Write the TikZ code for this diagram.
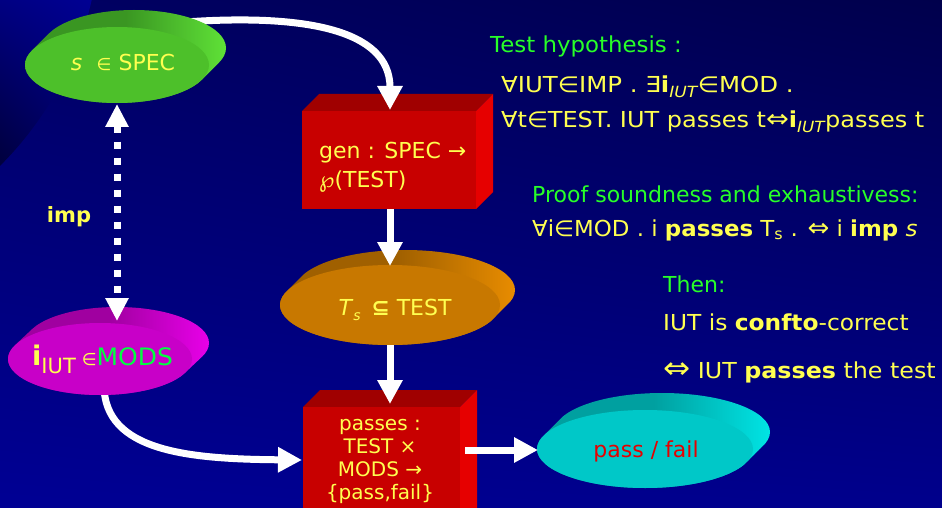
\documentclass[tikz,border=0pt]{standalone}
\usepackage{fontspec}
\setmainfont{DejaVu Sans}
\usetikzlibrary{arrows.meta,shadings}
\definecolor{ylw}{RGB}{255,255,80}
\definecolor{grn}{RGB}{40,255,40}
\definecolor{modsgrn}{RGB}{0,255,64}
\definecolor{bgUL}{RGB}{0,0,100}
\definecolor{bgUR}{RGB}{0,0,76}
\definecolor{bgLL}{RGB}{0,0,148}
\definecolor{bgLR}{RGB}{0,0,140}
\definecolor{cUR}{RGB}{0,0,150}
\definecolor{cUL}{RGB}{0,0,130}
\definecolor{cLL}{RGB}{0,0,55}
\definecolor{cLR}{RGB}{0,0,115}
\definecolor{gBack}{RGB}{58,150,34}
\definecolor{gSide}{RGB}{95,225,55}
\definecolor{gFront}{RGB}{77,192,42}
\definecolor{oBack}{RGB}{160,96,0}
\definecolor{oSide}{RGB}{232,140,0}
\definecolor{oFront}{RGB}{200,120,0}
\definecolor{mBack}{RGB}{160,0,160}
\definecolor{mSide}{RGB}{232,0,232}
\definecolor{mFront}{RGB}{200,0,200}
\definecolor{cBack}{RGB}{0,160,160}
\definecolor{cSide}{RGB}{0,228,228}
\definecolor{cFront}{RGB}{0,200,200}
\definecolor{rTop}{RGB}{160,0,0}
\definecolor{rSide}{RGB}{230,0,0}
\definecolor{rFront}{RGB}{200,0,0}
\definecolor{failred}{RGB}{230,0,0}
\newcommand\fs[1]{\fontsize{#1}{#1}\selectfont}
% 3D disc: cx, cy, rx, ry, dx, dy, back, side, front
\newcommand\disc[9]{%
  \shade[left color=#7, right color=#8, middle color=#7]
    \foreach \t in {0,0.05,...,1.01}{ (#1+\t*#5,#2+\t*#6) ellipse [x radius=#3pt, y radius=#4pt] };
  \fill[#9] (#1,#2) ellipse [x radius=#3pt, y radius=#4pt];
}
% 3D box: x1, y1, x2, y2, depth
\newcommand\boxthree[5]{%
  \fill[rTop] (#1,#2) -- (#1+#5,#2-#5) -- (#3+#5,#2-#5) -- (#3,#2) -- cycle;
  \fill[rSide] (#3,#2) -- (#3+#5,#2-#5) -- (#3+#5,#4-#5) -- (#3,#4) -- cycle;
  \fill[rFront] (#1,#2) rectangle (#3,#4);
}
\newcommand\wide[2]{\scalebox{#1}[1]{#2}}
\begin{document}
\begin{tikzpicture}[x=1pt,y=-1pt,
  txt/.style={text=ylw, font=\fs{22}, anchor=base west, inner sep=0pt},
  lbl/.style={text=ylw, font=\fs{22}, anchor=base, inner sep=0pt},
  warrow/.style={draw=white, line width=7pt, -{Triangle[length=24pt,width=24pt]}},
  wdots/.style={draw=white, line width=7pt, dash pattern=on 7pt off 9pt,
     {Triangle[length=23pt,width=22pt]}-{Triangle[length=23pt,width=22pt]}}]
\useasboundingbox (0,0) rectangle (942,508);
\clip (0,0) rectangle (942,508);
% background
\shade[upper left=bgUL, upper right=bgUR, lower left=bgLL, lower right=bgLR] (0,0) rectangle (942,508);
\begin{scope}
  \clip (-240,-75) circle [radius=340pt];
  \shade[upper left=cUL, upper right=cUR, lower left=cLL, lower right=cLR] (0,0) rectangle (110,180);
\end{scope}

% boxes
\boxthree{302}{111}{476}{209}{17}
\boxthree{303}{407}{460}{530}{17}

% arrows hidden partly under discs
\coordinate (specOut) at (185,22);
\coordinate (genIn) at (390,110);
\draw[warrow] (specOut) .. controls (300,14) and (390,28) .. (genIn);
\coordinate (modsOut) at (104,385);
\coordinate (passIn) at (302,460);
\draw[warrow] (modsOut) .. controls (104,452) and (190,459) .. (passIn);

% discs
\disc{117}{65}{92}{38}{17}{-17}{gBack}{gSide}{gFront}
\disc{390}{305}{110}{40}{15}{-15}{oBack}{oSide}{oFront}
\disc{100}{359}{92}{36}{17}{-16}{mBack}{mSide}{mFront}
\disc{645}{449}{108}{39}{17}{-17}{cBack}{cSide}{cFront}

% disc labels
\node[lbl] (spec) at (123,71) {\textit{s}\,\, {\fs{17}∈} SPEC};
\node[lbl] (ts) at (395,315) {\textit{T}\raisebox{-5pt}{\fs{14}\textit{s}}\, \textbf{⊆} TEST};
\node[lbl, anchor=base west] (mods) at (32,365) {{\fs{27}\bfseries i}\raisebox{-8pt}{\fs{21}IUT}\hspace{6pt}{\fs{17}∈}{\fs{24}\color{modsgrn}\wide{1.04}{MODS}}};
\node[lbl, text=failred] (pf) at (646,457) {pass / fail};
\node[lbl, font=\fs{21}\bfseries] (imp) at (69,222) {imp};

% box labels
\node[txt, font=\fs{22}] (gen1) at (319,158) {gen : SPEC →};
\node[txt, font=\fs{22}] (gen2) at (319,187) {℘(TEST)};
\node[lbl, font=\fs{20}] (ps1) at (380,430) {passes :};
\node[lbl, font=\fs{20}] (ps2) at (380,453) {TEST ×};
\node[lbl, font=\fs{20}] (ps3) at (380,476) {MODS →};
\node[lbl, font=\fs{20}] (ps4) at (380,499) {\{pass,fail\}};

% remaining arrows
\coordinate (genOut) at (390,209);
\coordinate (tsIn) at (390,266);
\draw[warrow] (genOut) -- (tsIn);
\coordinate (tsOut) at (390,345);
\coordinate (psIn) at (390,404);
\draw[warrow] (tsOut) -- (psIn);
\coordinate (psOut) at (465,450);
\coordinate (pfIn) at (538,450);
\draw[warrow] (psOut) -- (pfIn);
\coordinate (specBot) at (117,104);
\coordinate (modsTop) at (117,321);
\draw[wdots] (specBot) -- (modsTop);

% right-hand text
\node[txt, text=grn] (h1) at (490,53) {\wide{1.04}{Test hypothesis :}};
\node[txt] (h2) at (501,93) {\wide{1.11}{∀IUT∈IMP . ∃\textbf{i}\textsubscript{\itshape IUT}∈MOD .}};
\node[txt] (h3) at (501,128) {\wide{1.09}{∀t∈TEST. IUT passes t{\fs{25}⇔}\textbf{i}\textsubscript{\itshape IUT}passes t}};
\node[txt, text=grn] (p1) at (532,202) {Proof soundness and exhaustivess:};
\node[txt] (p2) at (532,236) {\wide{1.04}{∀i∈MOD . i \textbf{passes} T\textsubscript{s} . {\fs{25}⇔} i \textbf{imp} \textit{s}}};
\node[txt, text=grn] (t1) at (663,292) {Then:};
\node[txt] (t2) at (663,330) {\wide{1.06}{IUT is \textbf{confto}-correct}};
\node[txt] (t3) at (663,378) {\wide{1.08}{{\fs{30}⇔} IUT \textbf{passes} the test}};
\end{tikzpicture}
\end{document}
